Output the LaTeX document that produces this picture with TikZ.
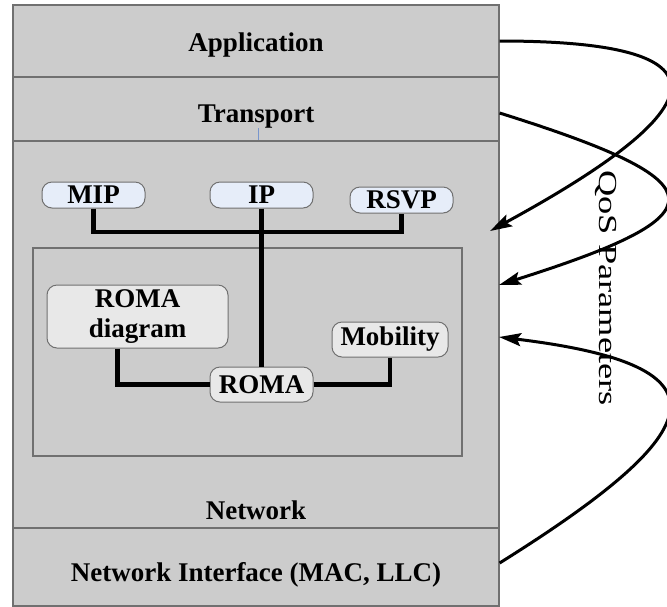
\documentclass[tikz,border=0pt]{standalone}
\usepackage{fontspec}
\setmainfont{Liberation Serif}
\usetikzlibrary{arrows.meta}

\definecolor{layergray}{RGB}{204,204,204}
\definecolor{edgegray}{RGB}{112,112,112}
\definecolor{protoblue}{RGB}{230,237,249}
\definecolor{modgray}{RGB}{232,232,232}
\definecolor{tickblue}{RGB}{120,150,205}

\tikzset{
  lbl/.style={font=\fontsize{13.5pt}{15pt}\selectfont\bfseries},
  layer/.style={draw=edgegray, fill=layergray, line width=0.6pt},
  proto/.style={draw=edgegray, fill=protoblue, rounded corners=5pt, line width=0.5pt,
    minimum width=51.5pt, minimum height=13pt, inner sep=0pt, lbl},
  module/.style={draw=edgegray, fill=modgray, rounded corners=5pt, line width=0.5pt,
    inner sep=0pt, align=center, lbl},
  conn/.style={line width=2.2pt},
  qos/.style={line width=1.5pt, -{Stealth[length=11pt,width=6.5pt,inset=2pt]}}
}

\begin{document}
\begin{tikzpicture}[x=0.5pt,y=-0.5pt]
  \useasboundingbox (0,0) rectangle (667,606);

  % protocol stack
  \node[layer, minimum width=243pt, minimum height=36pt] (app) at (256,41) {};
  \node[layer, minimum width=243pt, minimum height=32pt] (trans) at (256,109) {};
  \node[layer, minimum width=243pt, minimum height=193.5pt] (net) at (256,334.5) {};
  \node[layer, minimum width=243pt, minimum height=39pt] (nif) at (256,567) {};
  \node[lbl] (applbl) at (256,45) {Application};
  \node[lbl] (translbl) at (256,117) {Transport};
  \node[lbl] (netlbl) at (256,510) {Network};
  \node[lbl] (niflbl) at (256,575) {Network Interface (MAC, LLC)};
  \draw[tickblue, line width=0.4pt] (258,128) -- (258,140);

  % inner part of the network layer
  \node[draw=edgegray, fill=layergray, line width=0.6pt,
        minimum width=214.5pt, minimum height=104pt] (inner) at (247.5,352) {};

  \node[proto] (mip) at (93.5,195) {MIP};
  \node[proto] (ip) at (261.5,195) {IP};
  \node[proto] (rsvp) at (401.5,200) {RSVP};

  \node[module, minimum width=90.5pt, minimum height=31.5pt] (rdiag) at (137.5,316.5) {ROMA\\diagram};
  \node[module, minimum width=58pt, minimum height=17.5pt] (mob) at (390,339.5) {Mobility};
  \node[module, minimum width=51.5pt, minimum height=17.5pt] (roma) at (261.5,384.5) {ROMA};

  \coordinate (bus) at (261.5,232);
  \draw[conn] (mip.south) |- (bus) -| (rsvp.south);
  \draw[conn] (ip.south) -- (roma.north);
  \draw[conn] ([xshift=-10pt]rdiag.south) |- (roma.west);
  \draw[conn] (roma.east) -| (mob.south);

  % QoS parameter arrows
  \coordinate (q1) at (490,231);
  \coordinate (q2) at (499,285);
  \coordinate (q3) at (499,337);
  \draw[qos] (app.east) .. controls (689,41) and (762,83) .. (q1);
  \draw[qos] ([yshift=-2pt]trans.east) .. controls (723,183) and (722,214.5) .. (q2);
  \draw[qos] ([yshift=2pt]nif.east) .. controls (711.5,430.5) and (736.6,365.8) .. (q3);
  \node[rotate=-90, font=\fontsize{13pt}{15pt}\selectfont] (qoslbl) at (606,288)
    {\scalebox{1.4}[1]{QoS Parameters}};
\end{tikzpicture}
\end{document}
